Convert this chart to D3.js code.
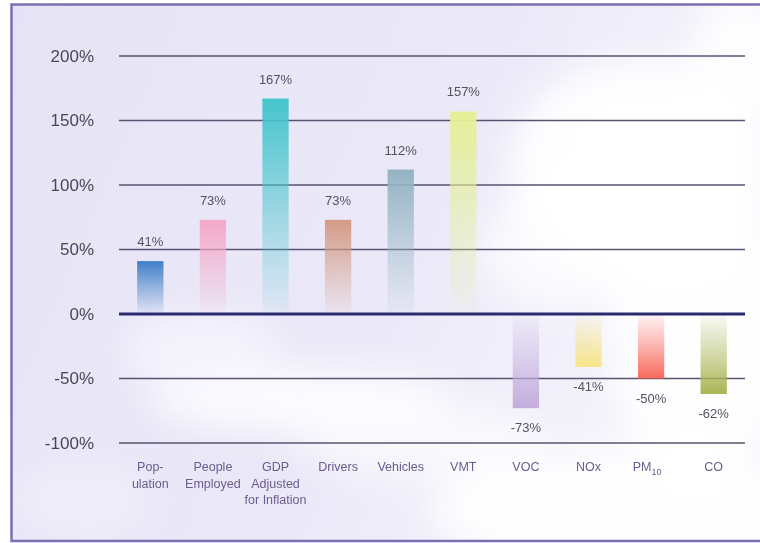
<!DOCTYPE html>
<html><head><meta charset="utf-8">
<script src="https://cdn.jsdelivr.net/npm/d3@7"></script>
<style>html,body{margin:0;padding:0;background:#fff;}svg{display:block;}</style>
</head><body>
<svg id="chart" width="760" height="543"></svg>
<script>
const categories = ["Population","People Employed","GDP Adjusted for Inflation","Drivers","Vehicles","VMT","VOC","NOx","PM10","CO"];
const labelLines = [["Pop-","ulation"],["People","Employed"],["GDP","Adjusted","for Inflation"],["Drivers"],["Vehicles"],["VMT"],["VOC"],["NOx"],["PM|10"],["CO"]];
const values = [41,73,167,73,112,157,-73,-41,-50,-62];
const barColors = ["#3f7fc6","#f4a8c8","#45c4cc","#d49a85","#93b3c3","#e4ef96","#c3acdc","#f6e486","#f86a5c","#aab556"];
const yTicks = [200,150,100,50,0,-50,-100];

const svg = d3.select("#chart");
const W = 760, H = 543;
const defs = svg.append("defs");

// background
const bgGrad = defs.append("linearGradient").attr("id","bg").attr("x1",0).attr("y1",0).attr("x2",1).attr("y2",0.3);
bgGrad.append("stop").attr("offset","0%").attr("stop-color","#e6e3f6");
bgGrad.append("stop").attr("offset","60%").attr("stop-color","#ebe9f8");
bgGrad.append("stop").attr("offset","100%").attr("stop-color","#f6f5fc");
const blur = defs.append("filter").attr("id","blur").attr("x","-50%").attr("y","-50%").attr("width","200%").attr("height","200%");
blur.append("feGaussianBlur").attr("stdDeviation",18);
defs.append("clipPath").attr("id","frame").append("rect").attr("x",11).attr("y",4).attr("width",W).attr("height",537);

svg.append("rect").attr("x",11).attr("y",4).attr("width",W).attr("height",537).attr("fill","url(#bg)");
const clouds = svg.append("g").attr("clip-path","url(#frame)").append("g").attr("filter","url(#blur)");
[[640,170,130,110,"#ffffff",0.95],[700,330,90,150,"#ffffff",0.9],[560,250,80,60,"#ffffff",0.7],
 [300,400,150,30,"#ffffff",0.85],[420,440,120,40,"#ffffff",0.6],[620,510,190,60,"#ffffff",0.9],
 [200,350,80,40,"#f8f7fd",0.7],[80,500,70,40,"#f3f2fb",0.6],[740,60,50,70,"#ffffff",0.85]]
.forEach(c=>clouds.append("ellipse").attr("cx",c[0]).attr("cy",c[1]).attr("rx",c[2]).attr("ry",c[3]).attr("fill",c[4]).attr("opacity",c[5]));

// border
svg.append("rect").attr("x",11.5).attr("y",4.5).attr("width",W+10).attr("height",536.5)
  .attr("fill","none").attr("stroke","#7a6fb2").attr("stroke-width",2.5);

const x = d3.scaleBand().domain(categories).range([119,745]).paddingInner(0.58).paddingOuter(0.29);
const y = d3.scaleLinear().domain([-100,200]).range([443,56]);

// gridlines
const grid = svg.append("g");
grid.selectAll("line").data(yTicks.filter(t=>t!==0)).join("line")
  .attr("x1",119).attr("x2",745).attr("y1",d=>y(d)).attr("y2",d=>y(d))
  .attr("stroke","#5a5270").attr("stroke-width",1.3);

// y axis labels
const yAxis = d3.axisLeft(y).tickValues(yTicks).tickFormat(d=>d+"%").tickSize(0).tickPadding(0);
const ya = svg.append("g").attr("transform","translate(94,0)").call(yAxis);
ya.select(".domain").remove();
ya.selectAll("text").attr("font-family","Liberation Sans, Arial, sans-serif").attr("font-size",17).attr("fill","#4a4658");

// bar gradients
values.forEach((v,i)=>{
  const g = defs.append("linearGradient").attr("id","g"+i).attr("x1",0).attr("x2",0)
    .attr("y1", v>=0?1:0).attr("y2", v>=0?0:1);
  g.append("stop").attr("offset","0%").attr("stop-color",barColors[i]).attr("stop-opacity",0.05);
  g.append("stop").attr("offset","45%").attr("stop-color",barColors[i]).attr("stop-opacity",0.45);
  g.append("stop").attr("offset","100%").attr("stop-color",barColors[i]).attr("stop-opacity",1);
});

svg.append("g").selectAll("rect").data(values).join("rect")
  .attr("x",(d,i)=>x(categories[i])).attr("width",x.bandwidth())
  .attr("y",d=>y(Math.max(0,d))).attr("height",d=>Math.abs(y(d)-y(0)))
  .attr("fill",(d,i)=>"url(#g"+i+")");

// zero line
svg.append("line").attr("x1",119).attr("x2",745).attr("y1",y(0)).attr("y2",y(0))
  .attr("stroke","#2a2a6e").attr("stroke-width",3);

// value labels
svg.append("g").selectAll("text").data(values).join("text")
  .attr("x",(d,i)=>x(categories[i])+x.bandwidth()/2)
  .attr("y",d=> d>=0 ? y(d)-15 : y(d)+24)
  .attr("text-anchor","middle").attr("font-family","Liberation Sans, Arial, sans-serif")
  .attr("font-size",13).attr("fill","#55525f").text(d=>d+"%");

// x labels
const xl = svg.append("g");
labelLines.forEach((lines,i)=>{
  const cx = x(categories[i])+x.bandwidth()/2;
  const t = xl.append("text").attr("x",cx).attr("y",471).attr("text-anchor","middle")
    .attr("font-family","Liberation Sans, Arial, sans-serif").attr("font-size",12.5).attr("fill","#6a5c8e");
  lines.forEach((ln,j)=>{
    if(ln.includes("|")){
      const [a,b] = ln.split("|");
      t.append("tspan").attr("x",cx-4).attr("dy",0).text(a);
      t.append("tspan").attr("dy",4).attr("font-size",9).text(b);
    } else {
      t.append("tspan").attr("x",cx).attr("dy", j===0?0:16.5).text(ln);
    }
  });
});
</script>
</body></html>
